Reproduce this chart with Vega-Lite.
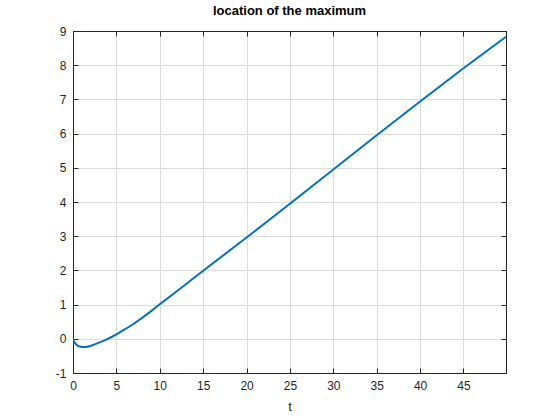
{
  "$schema": "https://vega.github.io/schema/vega-lite/v6.json",
  "width": 433,
  "height": 342,
  "autosize": {"type": "none"},
  "padding": {"left": 73, "top": 31, "right": 54, "bottom": 47},
  "background": "white",
  "title": {"text": "location of the maximum", "font": "Liberation Sans", "fontSize": 13, "fontWeight": "bold", "color": "#000000", "offset": 7, "anchor": "middle"},
  "config": {
    "view": {"stroke": "#262626", "strokeWidth": 1},
    "axis": {"labelFont": "Liberation Sans", "labelFontSize": 12, "labelColor": "#262626", "titleFont": "Liberation Sans", "titleFontSize": 13, "titleFontWeight": "normal", "titleColor": "#262626", "gridColor": "#dcdcdc", "gridWidth": 1, "domainColor": "#262626", "tickColor": "#262626", "tickSize": -5, "labelPadding": 11, "labelFlush": false}
  },
  "data": {"values": [
    {"t": 0, "x": 0.0},
    {"t": 0.15, "x": -0.1},
    {"t": 0.35, "x": -0.16},
    {"t": 0.6, "x": -0.21},
    {"t": 1.0, "x": -0.24},
    {"t": 1.5, "x": -0.24},
    {"t": 2.0, "x": -0.21},
    {"t": 2.5, "x": -0.165},
    {"t": 3.0, "x": -0.11},
    {"t": 3.5, "x": -0.06},
    {"t": 4.0, "x": 0.0},
    {"t": 4.5, "x": 0.06},
    {"t": 5.0, "x": 0.13},
    {"t": 6.0, "x": 0.28},
    {"t": 7.0, "x": 0.44},
    {"t": 8.0, "x": 0.62},
    {"t": 9.0, "x": 0.81},
    {"t": 10.0, "x": 1.01},
    {"t": 12.0, "x": 1.4},
    {"t": 15.0, "x": 1.99},
    {"t": 20.0, "x": 2.96},
    {"t": 25.0, "x": 3.95},
    {"t": 30.0, "x": 4.95},
    {"t": 35.0, "x": 5.95},
    {"t": 40.0, "x": 6.94},
    {"t": 45.0, "x": 7.91},
    {"t": 49.9, "x": 8.83}
  ]},
  "layer": [
    {
      "mark": {"type": "line", "color": "#0072BD", "strokeWidth": 2, "clip": true},
      "encoding": {
        "x": {"field": "t", "type": "quantitative", "scale": {"domain": [0, 49.9], "nice": false, "zero": false}, "axis": {"values": [0,5,10,15,20,25,30,35,40,45], "title": "t", "titlePadding": 9, "labelPadding": 12}},
        "y": {"field": "x", "type": "quantitative", "scale": {"domain": [-1, 9], "nice": false}, "axis": {"values": [-1,0,1,2,3,4,5,6,7,8,9], "title": null, "labelPadding": 12, "labelExpr": "'' + datum.value"}}
      }
    },
    {
      "mark": {"type": "line", "opacity": 0, "clip": true},
      "encoding": {
        "x": {"field": "t", "type": "quantitative", "scale": {"domain": [0, 49.9], "nice": false, "zero": false}, "axis": {"orient": "top", "values": [0,5,10,15,20,25,30,35,40,45], "title": null, "labels": false, "grid": false}},
        "y": {"field": "x", "type": "quantitative", "scale": {"domain": [-1, 9], "nice": false}, "axis": {"orient": "right", "values": [-1,0,1,2,3,4,5,6,7,8,9], "title": null, "labels": false, "grid": false}}
      }
    }
  ],
  "resolve": {"axis": {"x": "independent", "y": "independent"}}
}
